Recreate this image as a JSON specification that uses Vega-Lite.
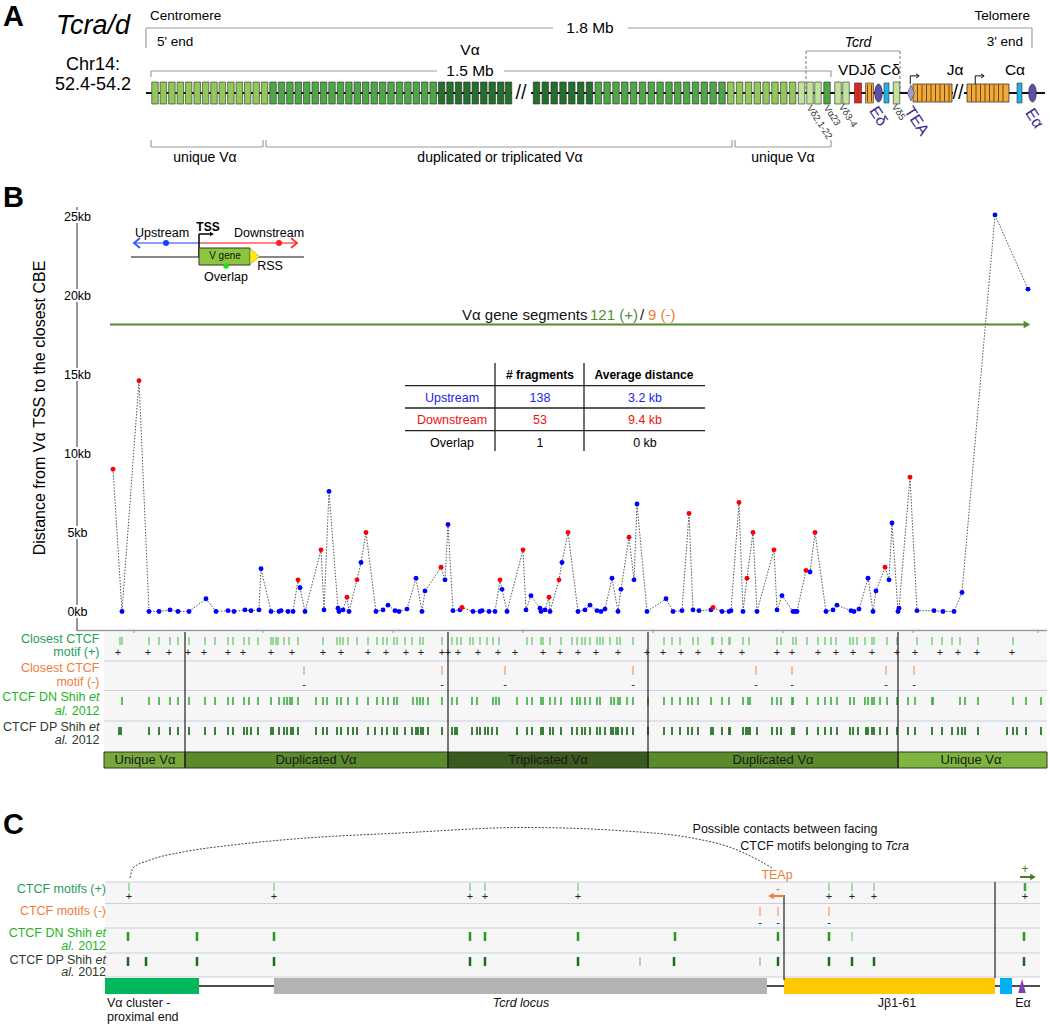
{
"$schema":"https://vega.github.io/schema/vega-lite/v6.json",
"width":1050,"height":1024,
"autosize":{"type":"fit","contains":"padding"},
"padding":0,
"background":"#ffffff",
"config":{"view":{"stroke":null},"font":"Liberation Sans"},
"datasets":{
"pts":[{"pos":113,"kb":9.0,"d":"D"},{"pos":122,"kb":0.0,"d":"U"},{"pos":139,"kb":14.6,"d":"D"},{"pos":149,"kb":0.0,"d":"U"},{"pos":159,"kb":0.0,"d":"U"},{"pos":170,"kb":0.1,"d":"U"},{"pos":178,"kb":0.0,"d":"U"},{"pos":189,"kb":0.0,"d":"U"},{"pos":206,"kb":0.8,"d":"U"},{"pos":216,"kb":0.0,"d":"U"},{"pos":228,"kb":0.05,"d":"U"},{"pos":234,"kb":0.0,"d":"U"},{"pos":245,"kb":0.1,"d":"U"},{"pos":251,"kb":0.05,"d":"U"},{"pos":259,"kb":0.1,"d":"U"},{"pos":261,"kb":2.7,"d":"U"},{"pos":271,"kb":0.0,"d":"U"},{"pos":279,"kb":0.0,"d":"U"},{"pos":281,"kb":0.05,"d":"U"},{"pos":288,"kb":0.0,"d":"U"},{"pos":293,"kb":0.0,"d":"U"},{"pos":298,"kb":2.0,"d":"D"},{"pos":300,"kb":1.5,"d":"U"},{"pos":305,"kb":0.0,"d":"U"},{"pos":321,"kb":3.9,"d":"D"},{"pos":324,"kb":0.1,"d":"U"},{"pos":329,"kb":7.6,"d":"U"},{"pos":338,"kb":0.2,"d":"U"},{"pos":339,"kb":0.0,"d":"U"},{"pos":343,"kb":0.1,"d":"U"},{"pos":347,"kb":0.9,"d":"D"},{"pos":349,"kb":0.0,"d":"U"},{"pos":357,"kb":2.0,"d":"D"},{"pos":361,"kb":3.1,"d":"U"},{"pos":366,"kb":5.0,"d":"D"},{"pos":376,"kb":0.0,"d":"U"},{"pos":383,"kb":0.1,"d":"U"},{"pos":388,"kb":0.4,"d":"U"},{"pos":395,"kb":0.05,"d":"U"},{"pos":399,"kb":0.0,"d":"U"},{"pos":407,"kb":0.15,"d":"U"},{"pos":416,"kb":2.1,"d":"U"},{"pos":422,"kb":0.0,"d":"U"},{"pos":425,"kb":1.3,"d":"U"},{"pos":441,"kb":2.8,"d":"D"},{"pos":445,"kb":2.0,"d":"U"},{"pos":448,"kb":5.5,"d":"U"},{"pos":453,"kb":0.05,"d":"U"},{"pos":460,"kb":0.1,"d":"U"},{"pos":462,"kb":0.25,"d":"D"},{"pos":473,"kb":0.0,"d":"U"},{"pos":480,"kb":0.0,"d":"U"},{"pos":482,"kb":0.05,"d":"U"},{"pos":489,"kb":0.0,"d":"U"},{"pos":495,"kb":0.0,"d":"U"},{"pos":500,"kb":2.0,"d":"D"},{"pos":502,"kb":1.4,"d":"U"},{"pos":507,"kb":0.0,"d":"U"},{"pos":523,"kb":3.9,"d":"D"},{"pos":526,"kb":0.1,"d":"U"},{"pos":531,"kb":1.0,"d":"U"},{"pos":540,"kb":0.2,"d":"U"},{"pos":541,"kb":0.0,"d":"U"},{"pos":545,"kb":0.1,"d":"U"},{"pos":549,"kb":0.9,"d":"D"},{"pos":550,"kb":0.0,"d":"U"},{"pos":559,"kb":2.0,"d":"D"},{"pos":562,"kb":3.1,"d":"U"},{"pos":568,"kb":5.0,"d":"D"},{"pos":578,"kb":0.0,"d":"U"},{"pos":585,"kb":0.1,"d":"U"},{"pos":590,"kb":0.4,"d":"U"},{"pos":597,"kb":0.05,"d":"U"},{"pos":601,"kb":0.0,"d":"U"},{"pos":605,"kb":0.15,"d":"U"},{"pos":612,"kb":2.1,"d":"U"},{"pos":618,"kb":0.0,"d":"U"},{"pos":621,"kb":1.4,"d":"U"},{"pos":629,"kb":4.7,"d":"D"},{"pos":634,"kb":2.0,"d":"U"},{"pos":637,"kb":6.8,"d":"U"},{"pos":647,"kb":0.0,"d":"U"},{"pos":666,"kb":0.8,"d":"U"},{"pos":673,"kb":0.0,"d":"U"},{"pos":682,"kb":0.05,"d":"U"},{"pos":689,"kb":6.2,"d":"D"},{"pos":693,"kb":0.1,"d":"U"},{"pos":699,"kb":0.05,"d":"U"},{"pos":711,"kb":0.1,"d":"U"},{"pos":713,"kb":0.25,"d":"D"},{"pos":722,"kb":0.0,"d":"U"},{"pos":729,"kb":0.0,"d":"U"},{"pos":731,"kb":0.05,"d":"U"},{"pos":739,"kb":6.9,"d":"D"},{"pos":743,"kb":0.0,"d":"U"},{"pos":747,"kb":2.1,"d":"D"},{"pos":753,"kb":5.0,"d":"D"},{"pos":757,"kb":0.0,"d":"U"},{"pos":774,"kb":3.9,"d":"D"},{"pos":777,"kb":0.1,"d":"U"},{"pos":782,"kb":1.0,"d":"U"},{"pos":793,"kb":0.0,"d":"U"},{"pos":795,"kb":0.0,"d":"U"},{"pos":797,"kb":0.0,"d":"U"},{"pos":806,"kb":2.6,"d":"D"},{"pos":810,"kb":2.5,"d":"U"},{"pos":815,"kb":5.0,"d":"D"},{"pos":826,"kb":0.0,"d":"U"},{"pos":833,"kb":0.1,"d":"U"},{"pos":837,"kb":0.4,"d":"U"},{"pos":851,"kb":0.05,"d":"U"},{"pos":854,"kb":0.0,"d":"U"},{"pos":859,"kb":0.15,"d":"U"},{"pos":868,"kb":2.1,"d":"U"},{"pos":873,"kb":0.0,"d":"U"},{"pos":876,"kb":1.3,"d":"U"},{"pos":885,"kb":2.8,"d":"D"},{"pos":889,"kb":2.0,"d":"U"},{"pos":892,"kb":5.6,"d":"U"},{"pos":898,"kb":0.0,"d":"U"},{"pos":899,"kb":0.2,"d":"U"},{"pos":910,"kb":8.5,"d":"D"},{"pos":917,"kb":0.05,"d":"U"},{"pos":934,"kb":0.05,"d":"U"},{"pos":943,"kb":0.0,"d":"U"},{"pos":954,"kb":0.0,"d":"U"},{"pos":962,"kb":1.2,"d":"U"},{"pos":995,"kb":25.1,"d":"U"},{"pos":1028,"kb":20.4,"d":"U"}],
"bPlus":[{"x":120},{"x":122},{"x":149},{"x":159},{"x":170},{"x":178},{"x":189},{"x":205},{"x":215},{"x":228},{"x":233},{"x":244},{"x":249},{"x":258},{"x":271},{"x":273},{"x":276},{"x":278},{"x":284},{"x":289},{"x":298},{"x":323},{"x":337},{"x":340},{"x":343},{"x":348},{"x":357},{"x":368},{"x":377},{"x":383},{"x":387},{"x":394},{"x":397},{"x":405},{"x":412},{"x":420},{"x":423},{"x":442},{"x":452},{"x":457},{"x":461},{"x":470},{"x":473},{"x":480},{"x":487},{"x":493},{"x":499},{"x":527},{"x":532},{"x":541},{"x":543},{"x":550},{"x":561},{"x":572},{"x":577},{"x":582},{"x":585},{"x":590},{"x":597},{"x":600},{"x":603},{"x":610},{"x":617},{"x":620},{"x":633},{"x":664},{"x":672},{"x":680},{"x":693},{"x":698},{"x":712},{"x":713},{"x":722},{"x":729},{"x":730},{"x":743},{"x":749},{"x":777},{"x":781},{"x":793},{"x":796},{"x":807},{"x":818},{"x":825},{"x":831},{"x":836},{"x":850},{"x":853},{"x":857},{"x":865},{"x":872},{"x":874},{"x":887},{"x":897},{"x":917},{"x":932},{"x":942},{"x":952},{"x":960},{"x":978},{"x":1013}],
"bPlusSign":[{"x":118},{"x":148},{"x":169},{"x":188},{"x":204},{"x":228},{"x":243},{"x":271},{"x":292},{"x":323},{"x":341},{"x":368},{"x":386},{"x":406},{"x":421},{"x":442},{"x":448},{"x":458},{"x":478},{"x":498},{"x":515},{"x":543},{"x":560},{"x":578},{"x":596},{"x":618},{"x":647},{"x":663},{"x":681},{"x":698},{"x":721},{"x":742},{"x":777},{"x":792},{"x":818},{"x":836},{"x":853},{"x":872},{"x":897},{"x":915},{"x":940},{"x":958},{"x":977},{"x":1012}],
"bMinus":[{"x":304},{"x":442},{"x":505},{"x":633},{"x":756},{"x":792},{"x":886},{"x":914}],
"bDN":[{"x":122},{"x":149},{"x":159},{"x":170},{"x":178},{"x":189},{"x":205},{"x":215},{"x":228},{"x":233},{"x":244},{"x":249},{"x":258},{"x":271},{"x":279},{"x":284},{"x":287},{"x":290},{"x":292},{"x":298},{"x":316},{"x":323},{"x":327},{"x":337},{"x":341},{"x":348},{"x":357},{"x":368},{"x":377},{"x":383},{"x":388},{"x":394},{"x":397},{"x":413},{"x":417},{"x":420},{"x":423},{"x":428},{"x":442},{"x":452},{"x":457},{"x":472},{"x":477},{"x":493},{"x":496},{"x":499},{"x":517},{"x":527},{"x":532},{"x":541},{"x":543},{"x":550},{"x":555},{"x":561},{"x":572},{"x":577},{"x":580},{"x":585},{"x":590},{"x":597},{"x":600},{"x":611},{"x":614},{"x":618},{"x":620},{"x":627},{"x":633},{"x":648},{"x":664},{"x":672},{"x":680},{"x":688},{"x":692},{"x":698},{"x":711},{"x":722},{"x":729},{"x":743},{"x":748},{"x":750},{"x":772},{"x":777},{"x":781},{"x":792},{"x":793},{"x":807},{"x":818},{"x":825},{"x":831},{"x":837},{"x":850},{"x":854},{"x":865},{"x":868},{"x":872},{"x":874},{"x":880},{"x":887},{"x":897},{"x":908},{"x":915},{"x":932},{"x":933},{"x":960},{"x":965},{"x":978},{"x":1013},{"x":1026},{"x":1041}],
"bDP":[{"x":119},{"x":121},{"x":149},{"x":159},{"x":170},{"x":178},{"x":189},{"x":205},{"x":215},{"x":228},{"x":233},{"x":244},{"x":247},{"x":251},{"x":258},{"x":271},{"x":273},{"x":279},{"x":284},{"x":287},{"x":291},{"x":293},{"x":298},{"x":316},{"x":323},{"x":327},{"x":337},{"x":341},{"x":348},{"x":353},{"x":357},{"x":368},{"x":375},{"x":382},{"x":387},{"x":394},{"x":397},{"x":405},{"x":412},{"x":416},{"x":418},{"x":421},{"x":423},{"x":428},{"x":442},{"x":452},{"x":455},{"x":457},{"x":472},{"x":477},{"x":480},{"x":485},{"x":488},{"x":492},{"x":497},{"x":517},{"x":527},{"x":532},{"x":541},{"x":543},{"x":550},{"x":553},{"x":561},{"x":572},{"x":577},{"x":582},{"x":585},{"x":590},{"x":597},{"x":600},{"x":605},{"x":611},{"x":613},{"x":616},{"x":618},{"x":622},{"x":627},{"x":633},{"x":648},{"x":664},{"x":672},{"x":680},{"x":688},{"x":692},{"x":698},{"x":711},{"x":713},{"x":722},{"x":729},{"x":730},{"x":743},{"x":746},{"x":748},{"x":750},{"x":757},{"x":772},{"x":777},{"x":781},{"x":792},{"x":794},{"x":807},{"x":818},{"x":825},{"x":831},{"x":837},{"x":850},{"x":853},{"x":858},{"x":866},{"x":868},{"x":872},{"x":874},{"x":880},{"x":887},{"x":897},{"x":908},{"x":915},{"x":932},{"x":942},{"x":952},{"x":958},{"x":962},{"x":965},{"x":978},{"x":1007},{"x":1013},{"x":1017},{"x":1026},{"x":1041}],
"cPlus":[{"x":129},{"x":274},{"x":470},{"x":485},{"x":578},{"x":829},{"x":852},{"x":874}],
"cPlusSign":[{"x":129},{"x":274},{"x":470},{"x":485},{"x":578},{"x":829},{"x":852},{"x":874},{"x":1025}],
"cMinus":[{"x":760},{"x":778},{"x":829}],
"cDN":[{"x":128},{"x":197},{"x":274},{"x":470},{"x":485},{"x":578},{"x":675},{"x":778},{"x":829},{"x":1024}],
"cDP":[{"x":128},{"x":146},{"x":197},{"x":274},{"x":470},{"x":485},{"x":578},{"x":674},{"x":778},{"x":829},{"x":852},{"x":874},{"x":1024}],
"cLight":[{"x":640},{"x":760}]
},
"layer":[
{
"encoding":{
"x":{"field":"x","type":"quantitative","scale":{"domain":[0,1050],"nice":false,"zero":false},"axis":null}
},
"layer":[
{"data":{"values":[{"x":104,"x2":1047,"y":632,"y2":752},{"x":105,"x2":1040,"y":882,"y2":977}]},"mark":{"type":"rect","color":"#f6f6f6"},"encoding":{"x2":{"field":"x2"},"y":{"field":"y","type":"quantitative","scale":{"domain":[0,1024],"reverse":true,"nice":false,"zero":false},"axis":null},"y2":{"field":"y2"}}},
{"data":{"values":[{"x":104,"x2":1047,"y":661},{"x":104,"x2":1047,"y":690.5},{"x":104,"x2":1047,"y":721},{"x":105,"x2":1040,"y":882},{"x":105,"x2":1040,"y":903.5},{"x":105,"x2":1040,"y":928},{"x":105,"x2":1040,"y":953},{"x":105,"x2":1040,"y":977}]},"mark":{"type":"rule","color":"#cdcfdc","strokeWidth":1.2},"encoding":{"x2":{"field":"x2"},"y":{"field":"y","type":"quantitative","scale":{"domain":[0,1024],"reverse":true,"nice":false,"zero":false},"axis":null}}},
{"data":{"values":[{"x":77,"x2":1047,"y":630.5}]},"mark":{"type":"rule","color":"#9a9a9a","strokeWidth":1.5},"encoding":{"x2":{"field":"x2"},"y":{"field":"y","type":"quantitative","scale":{"domain":[0,1024],"reverse":true,"nice":false,"zero":false},"axis":null}}},
{"data":{"values":[{"x":134},{"x":263},{"x":393},{"x":523},{"x":653},{"x":783},{"x":913},{"x":1038}]},"mark":{"type":"rule","color":"#9a9a9a","strokeWidth":1},"encoding":{"y":{"datum":630,"type":"quantitative","scale":{"domain":[0,1024],"reverse":true,"nice":false,"zero":false},"axis":null},"y2":{"datum":633}}},
{"data":{"name":"bPlus"},"mark":{"type":"rule","color":"#5cc65c","strokeWidth":1.2},"encoding":{"y":{"datum":637,"type":"quantitative","scale":{"domain":[0,1024],"reverse":true,"nice":false,"zero":false},"axis":null},"y2":{"datum":645}}},
{"data":{"name":"bPlusSign"},"mark":{"type":"text","text":"+","fontSize":11,"color":"#222222","baseline":"middle"},"encoding":{"y":{"datum":653,"type":"quantitative","scale":{"domain":[0,1024],"reverse":true,"nice":false,"zero":false},"axis":null}}},
{"data":{"name":"bMinus"},"mark":{"type":"rule","color":"#f59f66","strokeWidth":1.3},"encoding":{"y":{"datum":666,"type":"quantitative","scale":{"domain":[0,1024],"reverse":true,"nice":false,"zero":false},"axis":null},"y2":{"datum":675}}},
{"data":{"name":"bMinus"},"mark":{"type":"text","text":"-","fontSize":11,"color":"#222222","baseline":"middle"},"encoding":{"y":{"datum":685,"type":"quantitative","scale":{"domain":[0,1024],"reverse":true,"nice":false,"zero":false},"axis":null}}},
{"data":{"name":"bDN"},"mark":{"type":"rule","color":"#2da82d","strokeWidth":1.5},"encoding":{"y":{"datum":697,"type":"quantitative","scale":{"domain":[0,1024],"reverse":true,"nice":false,"zero":false},"axis":null},"y2":{"datum":705}}},
{"data":{"name":"bDP"},"mark":{"type":"rule","color":"#1c6b1c","strokeWidth":1.7},"encoding":{"y":{"datum":727,"type":"quantitative","scale":{"domain":[0,1024],"reverse":true,"nice":false,"zero":false},"axis":null},"y2":{"datum":735}}},
{"data":{"values":[{"x":104,"x2":185,"y":752,"y2":768}]},"mark":{"type":"rect","color":"#78a83b","stroke":"#2a3a1a","strokeWidth":1},"encoding":{"x2":{"field":"x2"},"y":{"field":"y","type":"quantitative","scale":{"domain":[0,1024],"reverse":true,"nice":false,"zero":false},"axis":null},"y2":{"field":"y2"}}},
{"data":{"values":[{"x":185,"x2":448,"y":752,"y2":768},{"x":648,"x2":898,"y":752,"y2":768}]},"mark":{"type":"rect","color":"#5a8a2b","stroke":"#2a3a1a","strokeWidth":1},"encoding":{"x2":{"field":"x2"},"y":{"field":"y","type":"quantitative","scale":{"domain":[0,1024],"reverse":true,"nice":false,"zero":false},"axis":null},"y2":{"field":"y2"}}},
{"data":{"values":[{"x":448,"x2":648,"y":752,"y2":768}]},"mark":{"type":"rect","color":"#3b5a1d","stroke":"#2a3a1a","strokeWidth":1},"encoding":{"x2":{"field":"x2"},"y":{"field":"y","type":"quantitative","scale":{"domain":[0,1024],"reverse":true,"nice":false,"zero":false},"axis":null},"y2":{"field":"y2"}}},
{"data":{"values":[{"x":898,"x2":1047,"y":752,"y2":768}]},"mark":{"type":"rect","color":"#7db53f","stroke":"#2a3a1a","strokeWidth":1},"encoding":{"x2":{"field":"x2"},"y":{"field":"y","type":"quantitative","scale":{"domain":[0,1024],"reverse":true,"nice":false,"zero":false},"axis":null},"y2":{"field":"y2"}}},
{"data":{"values":[{"x":185,"y":632,"y2":768},{"x":448,"y":632,"y2":768},{"x":648,"y":632,"y2":768},{"x":898,"y":632,"y2":768}]},"mark":{"type":"rule","color":"#222222","strokeWidth":1.2},"encoding":{"y":{"field":"y","type":"quantitative","scale":{"domain":[0,1024],"reverse":true,"nice":false,"zero":false},"axis":null},"y2":{"field":"y2"}}},
{"data":{"values":[{"x":77,"y":207,"y2":210},{"x":77,"y":223,"y2":289},{"x":77,"y":302,"y2":368},{"x":77,"y":381,"y2":447},{"x":77,"y":460,"y2":526},{"x":77,"y":539,"y2":605},{"x":77,"y":618,"y2":631}]},"mark":{"type":"rule","color":"#858585","strokeWidth":1.7},"encoding":{"y":{"field":"y","type":"quantitative","scale":{"domain":[0,1024],"reverse":true,"nice":false,"zero":false},"axis":null},"y2":{"field":"y2"}}},

{"data":{"values":[{"x":199,"x2":1040,"y":986}]},"mark":{"type":"rule","color":"#111111","strokeWidth":1.5},"encoding":{"x2":{"field":"x2"},"y":{"field":"y","type":"quantitative","scale":{"domain":[0,1024],"reverse":true,"nice":false,"zero":false},"axis":null}}},
{"data":{"values":[{"x":105,"x2":199,"y":978,"y2":994}]},"mark":{"type":"rect","color":"#00b95c"},"encoding":{"x2":{"field":"x2"},"y":{"field":"y","type":"quantitative","scale":{"domain":[0,1024],"reverse":true,"nice":false,"zero":false},"axis":null},"y2":{"field":"y2"}}},
{"data":{"values":[{"x":274,"x2":767,"y":978,"y2":994}]},"mark":{"type":"rect","color":"#b3b3b3"},"encoding":{"x2":{"field":"x2"},"y":{"field":"y","type":"quantitative","scale":{"domain":[0,1024],"reverse":true,"nice":false,"zero":false},"axis":null},"y2":{"field":"y2"}}},
{"data":{"values":[{"x":784,"x2":995,"y":978,"y2":994}]},"mark":{"type":"rect","color":"#ffc800"},"encoding":{"x2":{"field":"x2"},"y":{"field":"y","type":"quantitative","scale":{"domain":[0,1024],"reverse":true,"nice":false,"zero":false},"axis":null},"y2":{"field":"y2"}}},
{"data":{"values":[{"x":1000,"x2":1012,"y":978,"y2":994}]},"mark":{"type":"rect","color":"#00b0f0"},"encoding":{"x2":{"field":"x2"},"y":{"field":"y","type":"quantitative","scale":{"domain":[0,1024],"reverse":true,"nice":false,"zero":false},"axis":null},"y2":{"field":"y2"}}},
{"data":{"values":[{"x":1022,"y":986}]},"mark":{"type":"point","shape":"M0,-1L0.55,1L-0.55,1Z","size":196,"filled":true,"opacity":1,"color":"#7e3fb3"},"encoding":{"y":{"field":"y","type":"quantitative","scale":{"domain":[0,1024],"reverse":true,"nice":false,"zero":false},"axis":null}}},
{"data":{"name":"cPlus"},"mark":{"type":"rule","color":"#6fcf6f","strokeWidth":1.2},"encoding":{"y":{"datum":883,"type":"quantitative","scale":{"domain":[0,1024],"reverse":true,"nice":false,"zero":false},"axis":null},"y2":{"datum":891}}},
{"data":{"values":[{"x":1025}]},"mark":{"type":"rule","color":"#3aa53a","strokeWidth":2.5},"encoding":{"y":{"datum":883,"type":"quantitative","scale":{"domain":[0,1024],"reverse":true,"nice":false,"zero":false},"axis":null},"y2":{"datum":891}}},
{"data":{"name":"cPlusSign"},"mark":{"type":"text","text":"+","fontSize":11,"color":"#222222","baseline":"middle"},"encoding":{"y":{"datum":897,"type":"quantitative","scale":{"domain":[0,1024],"reverse":true,"nice":false,"zero":false},"axis":null}}},
{"data":{"name":"cMinus"},"mark":{"type":"rule","color":"#f5a066","strokeWidth":1.3},"encoding":{"y":{"datum":907,"type":"quantitative","scale":{"domain":[0,1024],"reverse":true,"nice":false,"zero":false},"axis":null},"y2":{"datum":916}}},
{"data":{"name":"cMinus"},"mark":{"type":"text","text":"-","fontSize":11,"color":"#222222","baseline":"middle"},"encoding":{"y":{"datum":923,"type":"quantitative","scale":{"domain":[0,1024],"reverse":true,"nice":false,"zero":false},"axis":null}}},
{"data":{"name":"cDN"},"mark":{"type":"rule","color":"#1f9f1f","strokeWidth":2.5},"encoding":{"y":{"datum":932,"type":"quantitative","scale":{"domain":[0,1024],"reverse":true,"nice":false,"zero":false},"axis":null},"y2":{"datum":941}}},
{"data":{"values":[{"x":852}]},"mark":{"type":"rule","color":"#7ad07a","strokeWidth":1.2},"encoding":{"y":{"datum":932,"type":"quantitative","scale":{"domain":[0,1024],"reverse":true,"nice":false,"zero":false},"axis":null},"y2":{"datum":941}}},
{"data":{"name":"cDP"},"mark":{"type":"rule","color":"#1a6b1a","strokeWidth":2.5},"encoding":{"y":{"datum":957,"type":"quantitative","scale":{"domain":[0,1024],"reverse":true,"nice":false,"zero":false},"axis":null},"y2":{"datum":966}}},
{"data":{"name":"cLight"},"mark":{"type":"rule","color":"#7fc87f","strokeWidth":1.2},"encoding":{"y":{"datum":957,"type":"quantitative","scale":{"domain":[0,1024],"reverse":true,"nice":false,"zero":false},"axis":null},"y2":{"datum":966}}},
{"data":{"values":[{"x":784,"y":895,"y2":980},{"x":995,"y":882,"y2":978}]},"mark":{"type":"rule","color":"#222222","strokeWidth":1.2},"encoding":{"y":{"field":"y","type":"quantitative","scale":{"domain":[0,1024],"reverse":true,"nice":false,"zero":false},"axis":null},"y2":{"field":"y2"}}},
{"data":{"values":[{"x":773,"x2":784,"y":896}]},"mark":{"type":"rule","color":"#f07d3c","strokeWidth":2},"encoding":{"x2":{"field":"x2"},"y":{"field":"y","type":"quantitative","scale":{"domain":[0,1024],"reverse":true,"nice":false,"zero":false},"axis":null}}},
{"data":{"values":[{"x":771,"y":896}]},"mark":{"type":"point","shape":"triangle-left","size":40,"filled":true,"opacity":1,"color":"#f07d3c"},"encoding":{"y":{"field":"y","type":"quantitative","scale":{"domain":[0,1024],"reverse":true,"nice":false,"zero":false},"axis":null}}},
{"data":{"values":[{"x":1020,"x2":1031,"y":877}]},"mark":{"type":"rule","color":"#4a7a1e","strokeWidth":2},"encoding":{"x2":{"field":"x2"},"y":{"field":"y","type":"quantitative","scale":{"domain":[0,1024],"reverse":true,"nice":false,"zero":false},"axis":null}}},
{"data":{"values":[{"x":1033,"y":877}]},"mark":{"type":"point","shape":"triangle-right","size":40,"filled":true,"opacity":1,"color":"#4a7a1e"},"encoding":{"y":{"field":"y","type":"quantitative","scale":{"domain":[0,1024],"reverse":true,"nice":false,"zero":false},"axis":null}}},
{"data":{"values":[{"x":130,"y":878},{"x":133,"y":868},{"x":150,"y":860},{"x":183,"y":852},{"x":233,"y":845},{"x":300,"y":838.5},{"x":400,"y":833},{"x":525,"y":827.5},{"x":625,"y":831},{"x":692,"y":838},{"x":732,"y":848},{"x":758,"y":860},{"x":772,"y":868}]},"mark":{"type":"line","color":"#444444","strokeWidth":1,"strokeDash":[2,1.5],"interpolate":"monotone"},"encoding":{"y":{"field":"y","type":"quantitative","scale":{"domain":[0,1024],"reverse":true,"nice":false,"zero":false},"axis":null}}},

{"data":{"values":[{"x":146,"x2":553,"y":28},{"x":628,"x2":1032,"y":28},{"x":151,"x2":437,"y":71},{"x":504,"x2":831,"y":71},{"x":806,"x2":900,"y":51},{"x":151,"x2":263,"y":147},{"x":266,"x2":732,"y":147},{"x":735,"x2":831,"y":147}]},"mark":{"type":"rule","color":"#9c9c9c","strokeWidth":1.2},"encoding":{"x2":{"field":"x2"},"y":{"field":"y","type":"quantitative","scale":{"domain":[0,1024],"reverse":true,"nice":false,"zero":false},"axis":null}}},
{"data":{"values":[{"x":146,"y":28,"y2":48},{"x":1032,"y":28,"y2":48},{"x":151,"y":71,"y2":77},{"x":831,"y":71,"y2":77},{"x":151,"y":140,"y2":147},{"x":263,"y":140,"y2":147},{"x":266,"y":140,"y2":147},{"x":732,"y":140,"y2":147},{"x":735,"y":140,"y2":147},{"x":831,"y":140,"y2":147}]},"mark":{"type":"rule","color":"#9c9c9c","strokeWidth":1.2},"encoding":{"y":{"field":"y","type":"quantitative","scale":{"domain":[0,1024],"reverse":true,"nice":false,"zero":false},"axis":null},"y2":{"field":"y2"}}},
{"data":{"values":[{"x":806,"y":51,"y2":92},{"x":900,"y":51,"y2":92}]},"mark":{"type":"rule","color":"#777777","strokeWidth":1,"strokeDash":[3,2]},"encoding":{"y":{"field":"y","type":"quantitative","scale":{"domain":[0,1024],"reverse":true,"nice":false,"zero":false},"axis":null},"y2":{"field":"y2"}}},
{"data":{"values":[{"x":146,"x2":512,"y":93},{"x":531,"x2":953,"y":93},{"x":964,"x2":1045,"y":93}]},"mark":{"type":"rule","color":"#111111","strokeWidth":2.2},"encoding":{"x2":{"field":"x2"},"y":{"field":"y","type":"quantitative","scale":{"domain":[0,1024],"reverse":true,"nice":false,"zero":false},"axis":null}}},
{"data":{"values":[{"x":521,"y":93,"t":"//"},{"x":958,"y":93,"t":"//"}]},"mark":{"type":"text","fontSize":20,"color":"#111111","baseline":"middle","align":"center"},"encoding":{"y":{"field":"y","type":"quantitative","scale":{"domain":[0,1024],"reverse":true,"nice":false,"zero":false},"axis":null},"text":{"field":"t"}}},
{"data":{"values":[{"x":155.0,"g":"L"},{"x":163.4,"g":"L"},{"x":171.9,"g":"L"},{"x":180.3,"g":"L"},{"x":188.7,"g":"L"},{"x":197.2,"g":"L"},{"x":205.6,"g":"L"},{"x":214.0,"g":"L"},{"x":222.4,"g":"L"},{"x":230.9,"g":"L"},{"x":239.3,"g":"L"},{"x":247.7,"g":"L"},{"x":256.2,"g":"L"},{"x":264.6,"g":"L"},{"x":273.0,"g":"M"},{"x":281.5,"g":"M"},{"x":289.9,"g":"M"},{"x":298.3,"g":"M"},{"x":306.7,"g":"M"},{"x":315.2,"g":"M"},{"x":323.6,"g":"M"},{"x":332.0,"g":"M"},{"x":340.5,"g":"M"},{"x":348.9,"g":"M"},{"x":357.3,"g":"M"},{"x":365.7,"g":"M"},{"x":374.2,"g":"M"},{"x":382.6,"g":"M"},{"x":391.0,"g":"M"},{"x":399.5,"g":"M"},{"x":407.9,"g":"M"},{"x":416.3,"g":"M"},{"x":424.7,"g":"M"},{"x":433.2,"g":"M"},{"x":441.6,"g":"D"},{"x":450.0,"g":"D"},{"x":458.5,"g":"D"},{"x":466.9,"g":"D"},{"x":475.3,"g":"D"},{"x":483.8,"g":"D"},{"x":492.2,"g":"D"},{"x":500.6,"g":"D"},{"x":508.5,"g":"D"},{"x":536.5,"g":"D"},{"x":545.3,"g":"D"},{"x":554.2,"g":"D"},{"x":563.0,"g":"D"},{"x":571.8,"g":"D"},{"x":580.7,"g":"D"},{"x":589.5,"g":"D"},{"x":598.3,"g":"M"},{"x":607.1,"g":"M"},{"x":616.0,"g":"M"},{"x":624.8,"g":"M"},{"x":633.6,"g":"M"},{"x":642.5,"g":"M"},{"x":651.3,"g":"M"},{"x":660.1,"g":"M"},{"x":669.0,"g":"M"},{"x":677.8,"g":"M"},{"x":686.6,"g":"M"},{"x":695.5,"g":"M"},{"x":704.3,"g":"M"},{"x":713.1,"g":"M"},{"x":722.0,"g":"M"},{"x":730.8,"g":"L"},{"x":739.6,"g":"L"},{"x":748.5,"g":"L"},{"x":757.3,"g":"L"},{"x":766.1,"g":"L"},{"x":775.0,"g":"L"},{"x":783.8,"g":"L"},{"x":792.6,"g":"L"},{"x":801.5,"g":"V"},{"x":810.0,"g":"V"},{"x":818.0,"g":"V"},{"x":827.0,"g":"M"},{"x":838.0,"g":"V"},{"x":846.0,"g":"V"},{"x":896.5,"g":"V"}]},"mark":{"type":"tick","orient":"vertical","thickness":6.5,"size":22,"stroke":"#2a2a2a","strokeWidth":0.6,"opacity":1},"encoding":{"y":{"datum":93,"type":"quantitative","scale":{"domain":[0,1024],"reverse":true,"nice":false,"zero":false},"axis":null},"color":{"field":"g","type":"nominal","scale":{"domain":["V","L","M","D"],"range":["#c3e39c","#92c85a","#4ea646","#236f2b"]},"legend":null}}},
{"data":{"values":[{"x":858}]},"mark":{"type":"tick","orient":"vertical","thickness":7,"size":20,"color":"#e8262a","stroke":"#5a1010","strokeWidth":0.6,"opacity":1},"encoding":{"y":{"datum":93,"type":"quantitative","scale":{"domain":[0,1024],"reverse":true,"nice":false,"zero":false},"axis":null}}},
{"data":{"values":[{"x":869.5}]},"mark":{"type":"tick","orient":"vertical","thickness":8,"size":20,"color":"#f3a83b","stroke":"#333333","strokeWidth":0.6,"opacity":1},"encoding":{"y":{"datum":93,"type":"quantitative","scale":{"domain":[0,1024],"reverse":true,"nice":false,"zero":false},"axis":null}}},
{"data":{"values":[{"x":886.5},{"x":1019.5}]},"mark":{"type":"tick","orient":"vertical","thickness":5,"size":20,"color":"#1fb1e8","stroke":"#333333","strokeWidth":0.6,"opacity":1},"encoding":{"y":{"datum":93,"type":"quantitative","scale":{"domain":[0,1024],"reverse":true,"nice":false,"zero":false},"axis":null}}},
{"data":{"values":[{"x":913,"x2":952,"y":84,"y2":102},{"x":967,"x2":1009,"y":84,"y2":102}]},"mark":{"type":"rect","color":"#f3a83b","stroke":"#333333","strokeWidth":0.8},"encoding":{"x2":{"field":"x2"},"y":{"field":"y","type":"quantitative","scale":{"domain":[0,1024],"reverse":true,"nice":false,"zero":false},"axis":null},"y2":{"field":"y2"}}},
{"data":{"values":[{"x":858},{"x":867.5},{"x":871.5},{"x":917.5},{"x":922},{"x":926.5},{"x":931},{"x":935.5},{"x":940},{"x":944.5},{"x":949},{"x":971.5},{"x":976},{"x":980.5},{"x":985},{"x":989.5},{"x":994},{"x":998.5},{"x":1003}]},"mark":{"type":"rule","color":"#6b4a10","strokeWidth":1},"encoding":{"y":{"datum":84.5,"type":"quantitative","scale":{"domain":[0,1024],"reverse":true,"nice":false,"zero":false},"axis":null},"y2":{"datum":101.5}}},
{"data":{"values":[{"x":878.5,"y":93},{"x":1032.5,"y":93}]},"mark":{"type":"point","shape":"M0,-1A0.42,1 0 1,1 0,1A0.42,1 0 1,1 0,-1Z","size":324,"filled":true,"opacity":1,"color":"#5b51a6","stroke":"#222222","strokeWidth":0.6},"encoding":{"y":{"field":"y","type":"quantitative","scale":{"domain":[0,1024],"reverse":true,"nice":false,"zero":false},"axis":null}}},
{"data":{"values":[{"x":911,"y":93}]},"mark":{"type":"point","shape":"M0,-1L0.45,0L0,1L-0.45,0Z","size":256,"filled":true,"opacity":1,"color":"#a79bd4","stroke":"#444444","strokeWidth":0.6},"encoding":{"y":{"field":"y","type":"quantitative","scale":{"domain":[0,1024],"reverse":true,"nice":false,"zero":false},"axis":null}}},
{"data":{"values":[{"x":915,"y":79},{"x":980,"y":79}]},"mark":{"type":"point","shape":"M-0.9,1L-0.9,-0.6L0.7,-0.6M0.2,-1L0.8,-0.6L0.2,-0.2","size":110,"filled":false,"opacity":1,"color":"#111111","strokeWidth":1},"encoding":{"y":{"field":"y","type":"quantitative","scale":{"domain":[0,1024],"reverse":true,"nice":false,"zero":false},"axis":null}}},

{"data":{"values":[{"x":134,"x2":199,"y":243}]},"mark":{"type":"rule","color":"#5f7dff","strokeWidth":1.5},"encoding":{"x2":{"field":"x2"},"y":{"field":"y","type":"quantitative","scale":{"domain":[0,1024],"reverse":true,"nice":false,"zero":false},"axis":null}}},
{"data":{"values":[{"x":199,"x2":297,"y":243}]},"mark":{"type":"rule","color":"#ff5a5a","strokeWidth":1.5},"encoding":{"x2":{"field":"x2"},"y":{"field":"y","type":"quantitative","scale":{"domain":[0,1024],"reverse":true,"nice":false,"zero":false},"axis":null}}},
{"data":{"values":[{"x":137,"y":243}]},"mark":{"type":"point","shape":"M0.6,-1L-0.6,0L0.6,1","size":100,"filled":false,"opacity":1,"color":"#3355ff","strokeWidth":1.8},"encoding":{"y":{"field":"y","type":"quantitative","scale":{"domain":[0,1024],"reverse":true,"nice":false,"zero":false},"axis":null}}},
{"data":{"values":[{"x":294,"y":243}]},"mark":{"type":"point","shape":"M-0.6,-1L0.6,0L-0.6,1","size":100,"filled":false,"opacity":1,"color":"#ff3030","strokeWidth":1.8},"encoding":{"y":{"field":"y","type":"quantitative","scale":{"domain":[0,1024],"reverse":true,"nice":false,"zero":false},"axis":null}}},
{"data":{"values":[{"x":131,"x2":304,"y":257}]},"mark":{"type":"rule","color":"#111111","strokeWidth":1},"encoding":{"x2":{"field":"x2"},"y":{"field":"y","type":"quantitative","scale":{"domain":[0,1024],"reverse":true,"nice":false,"zero":false},"axis":null}}},
{"data":{"values":[{"x":199,"y":234,"y2":257}]},"mark":{"type":"rule","color":"#111111","strokeWidth":1.6},"encoding":{"y":{"field":"y","type":"quantitative","scale":{"domain":[0,1024],"reverse":true,"nice":false,"zero":false},"axis":null},"y2":{"field":"y2"}}},
{"data":{"values":[{"x":199,"x2":210,"y":234}]},"mark":{"type":"rule","color":"#111111","strokeWidth":1.6},"encoding":{"x2":{"field":"x2"},"y":{"field":"y","type":"quantitative","scale":{"domain":[0,1024],"reverse":true,"nice":false,"zero":false},"axis":null}}},
{"data":{"values":[{"x":212,"y":234}]},"mark":{"type":"point","shape":"triangle-right","size":22,"filled":true,"opacity":1,"color":"#111111"},"encoding":{"y":{"field":"y","type":"quantitative","scale":{"domain":[0,1024],"reverse":true,"nice":false,"zero":false},"axis":null}}},
{"data":{"values":[{"x":199,"x2":250,"y":248,"y2":265}]},"mark":{"type":"rect","color":"#8cc63f","stroke":"#333333","strokeWidth":1},"encoding":{"x2":{"field":"x2"},"y":{"field":"y","type":"quantitative","scale":{"domain":[0,1024],"reverse":true,"nice":false,"zero":false},"axis":null},"y2":{"field":"y2"}}},
{"data":{"values":[{"x":254.8,"y":256.5}]},"mark":{"type":"point","shape":"M-0.6,-1L0.6,0L-0.6,1Z","size":256,"filled":true,"opacity":1,"color":"#ffee00","stroke":"#888888","strokeWidth":0.6},"encoding":{"y":{"field":"y","type":"quantitative","scale":{"domain":[0,1024],"reverse":true,"nice":false,"zero":false},"axis":null}}},
{"data":{"values":[{"x":166,"y":243}]},"mark":{"type":"point","size":36,"filled":true,"opacity":1,"color":"#1f3cff"},"encoding":{"y":{"field":"y","type":"quantitative","scale":{"domain":[0,1024],"reverse":true,"nice":false,"zero":false},"axis":null}}},
{"data":{"values":[{"x":279,"y":243}]},"mark":{"type":"point","size":36,"filled":true,"opacity":1,"color":"#ff2020"},"encoding":{"y":{"field":"y","type":"quantitative","scale":{"domain":[0,1024],"reverse":true,"nice":false,"zero":false},"axis":null}}},
{"data":{"values":[{"x":226,"y":266}]},"mark":{"type":"point","size":30,"filled":true,"opacity":1,"color":"#22dd22"},"encoding":{"y":{"field":"y","type":"quantitative","scale":{"domain":[0,1024],"reverse":true,"nice":false,"zero":false},"axis":null}}},
{"data":{"values":[{"x":110,"x2":1024,"y":324.5}]},"mark":{"type":"rule","color":"#578a2c","strokeWidth":2.2},"encoding":{"x2":{"field":"x2"},"y":{"field":"y","type":"quantitative","scale":{"domain":[0,1024],"reverse":true,"nice":false,"zero":false},"axis":null}}},
{"data":{"values":[{"x":1027,"y":324.5}]},"mark":{"type":"point","shape":"triangle-right","size":60,"filled":true,"opacity":1,"color":"#578a2c"},"encoding":{"y":{"field":"y","type":"quantitative","scale":{"domain":[0,1024],"reverse":true,"nice":false,"zero":false},"axis":null}}},
{"data":{"values":[{"x":405,"x2":705,"y":385.7},{"x":405,"x2":705,"y":408},{"x":405,"x2":705,"y":430.7}]},"mark":{"type":"rule","color":"#222222","strokeWidth":1.3},"encoding":{"x2":{"field":"x2"},"y":{"field":"y","type":"quantitative","scale":{"domain":[0,1024],"reverse":true,"nice":false,"zero":false},"axis":null}}},
{"data":{"values":[{"x":495,"y":363,"y2":451},{"x":584,"y":363,"y2":451}]},"mark":{"type":"rule","color":"#222222","strokeWidth":1.3},"encoding":{"y":{"field":"y","type":"quantitative","scale":{"domain":[0,1024],"reverse":true,"nice":false,"zero":false},"axis":null},"y2":{"field":"y2"}}},

{"data":{"values":[{"x":3,"y":26,"t":"A"},{"x":3,"y":207,"t":"B"},{"x":3,"y":834,"t":"C"}]},"mark":{"type":"text","fontSize":29,"fontWeight":"bold","align":"left","baseline":"alphabetic","color":"#000000"},"encoding":{"y":{"field":"y","type":"quantitative","scale":{"domain":[0,1024],"reverse":true,"nice":false,"zero":false},"axis":null},"text":{"field":"t"}}},
{"data":{"values":[{"x":93,"y":26,"t":"Tcra/d"}]},"mark":{"type":"text","fontSize":27,"fontStyle":"italic","align":"center","baseline":"middle","color":"#000000"},"encoding":{"y":{"field":"y","type":"quantitative","scale":{"domain":[0,1024],"reverse":true,"nice":false,"zero":false},"axis":null},"text":{"field":"t"}}},
{"data":{"values":[{"x":93,"y":65,"t":"Chr14:"},{"x":93,"y":85,"t":"52.4-54.2"}]},"mark":{"type":"text","fontSize":18,"align":"center","baseline":"middle","color":"#000000"},"encoding":{"y":{"field":"y","type":"quantitative","scale":{"domain":[0,1024],"reverse":true,"nice":false,"zero":false},"axis":null},"text":{"field":"t"}}},
{"data":{"values":[{"x":150,"y":16,"t":"Centromere"},{"x":157,"y":42,"t":"5' end"}]},"mark":{"type":"text","fontSize":13.5,"align":"left","baseline":"middle","color":"#000000"},"encoding":{"y":{"field":"y","type":"quantitative","scale":{"domain":[0,1024],"reverse":true,"nice":false,"zero":false},"axis":null},"text":{"field":"t"}}},
{"data":{"values":[{"x":1030,"y":16,"t":"Telomere"},{"x":1023,"y":42,"t":"3' end"}]},"mark":{"type":"text","fontSize":13.5,"align":"right","baseline":"middle","color":"#000000"},"encoding":{"y":{"field":"y","type":"quantitative","scale":{"domain":[0,1024],"reverse":true,"nice":false,"zero":false},"axis":null},"text":{"field":"t"}}},
{"data":{"values":[{"x":590,"y":28,"t":"1.8 Mb"},{"x":470,"y":50,"t":"Vα"},{"x":470,"y":71,"t":"1.5 Mb"},{"x":869,"y":70,"t":"VDJδ Cδ"},{"x":955,"y":70,"t":"Jα"},{"x":1015,"y":70,"t":"Cα"}]},"mark":{"type":"text","fontSize":15.5,"align":"center","baseline":"middle","color":"#000000"},"encoding":{"y":{"field":"y","type":"quantitative","scale":{"domain":[0,1024],"reverse":true,"nice":false,"zero":false},"axis":null},"text":{"field":"t"}}},
{"data":{"values":[{"x":858,"y":43,"t":"Tcrd"}]},"mark":{"type":"text","fontSize":14,"fontStyle":"italic","align":"center","baseline":"middle","color":"#000000"},"encoding":{"y":{"field":"y","type":"quantitative","scale":{"domain":[0,1024],"reverse":true,"nice":false,"zero":false},"axis":null},"text":{"field":"t"}}},
{"data":{"values":[{"x":205,"y":158,"t":"unique Vα"},{"x":500,"y":158,"t":"duplicated or triplicated Vα"},{"x":783,"y":158,"t":"unique Vα"}]},"mark":{"type":"text","fontSize":14,"align":"center","baseline":"middle","color":"#000000"},"encoding":{"y":{"field":"y","type":"quantitative","scale":{"domain":[0,1024],"reverse":true,"nice":false,"zero":false},"axis":null},"text":{"field":"t"}}},
{"data":{"values":[{"x":809,"y":106,"t":"Vδ2,1-22"},{"x":826,"y":106,"t":"Vα23"},{"x":841,"y":105,"t":"Vδ3-4"},{"x":894,"y":105,"t":"Vδ5"}]},"mark":{"type":"text","fontSize":9.5,"angle":57,"align":"left","baseline":"middle","color":"#333333"},"encoding":{"y":{"field":"y","type":"quantitative","scale":{"domain":[0,1024],"reverse":true,"nice":false,"zero":false},"axis":null},"text":{"field":"t"}}},
{"data":{"values":[{"x":873,"y":108,"t":"Eδ"},{"x":908,"y":108,"t":"TEA"},{"x":1029,"y":110,"t":"Eα"}]},"mark":{"type":"text","fontSize":16,"angle":57,"align":"left","baseline":"middle","color":"#3b2a8c"},"encoding":{"y":{"field":"y","type":"quantitative","scale":{"domain":[0,1024],"reverse":true,"nice":false,"zero":false},"axis":null},"text":{"field":"t"}}},

{"data":{"values":[{"x":40,"y":408,"t":"Distance from Vα TSS to the closest CBE"}]},"mark":{"type":"text","fontSize":16,"angle":270,"align":"center","baseline":"middle","color":"#000000"},"encoding":{"y":{"field":"y","type":"quantitative","scale":{"domain":[0,1024],"reverse":true,"nice":false,"zero":false},"axis":null},"text":{"field":"t"}}},
{"data":{"values":[{"x":162,"y":233,"t":"Upstream"},{"x":269,"y":233,"t":"Downstream"},{"x":270,"y":266,"t":"RSS"},{"x":226,"y":277,"t":"Overlap"}]},"mark":{"type":"text","fontSize":12.5,"align":"center","baseline":"middle","color":"#000000"},"encoding":{"y":{"field":"y","type":"quantitative","scale":{"domain":[0,1024],"reverse":true,"nice":false,"zero":false},"axis":null},"text":{"field":"t"}}},
{"data":{"values":[{"x":208,"y":227,"t":"TSS"},{"x":540,"y":375,"t":"# fragments"},{"x":644,"y":375,"t":"Average distance"}]},"mark":{"type":"text","fontSize":12,"fontWeight":"bold","align":"center","baseline":"middle","color":"#000000"},"encoding":{"y":{"field":"y","type":"quantitative","scale":{"domain":[0,1024],"reverse":true,"nice":false,"zero":false},"axis":null},"text":{"field":"t"}}},
{"data":{"values":[{"x":225,"y":256,"t":"V gene"}]},"mark":{"type":"text","fontSize":10,"align":"center","baseline":"middle","color":"#111111"},"encoding":{"y":{"field":"y","type":"quantitative","scale":{"domain":[0,1024],"reverse":true,"nice":false,"zero":false},"axis":null},"text":{"field":"t"}}},
{"data":{"values":[{"x":462,"y":315,"t":"Vα gene segments"},{"x":640,"y":315,"t":"/"}]},"mark":{"type":"text","fontSize":15,"align":"left","baseline":"middle","color":"#111111"},"encoding":{"y":{"field":"y","type":"quantitative","scale":{"domain":[0,1024],"reverse":true,"nice":false,"zero":false},"axis":null},"text":{"field":"t"}}},
{"data":{"values":[{"x":590,"y":315,"t":"121 (+)"}]},"mark":{"type":"text","fontSize":15,"align":"left","baseline":"middle","color":"#4d8f2f"},"encoding":{"y":{"field":"y","type":"quantitative","scale":{"domain":[0,1024],"reverse":true,"nice":false,"zero":false},"axis":null},"text":{"field":"t"}}},
{"data":{"values":[{"x":648,"y":315,"t":"9 (-)"}]},"mark":{"type":"text","fontSize":15,"align":"left","baseline":"middle","color":"#f07d3c"},"encoding":{"y":{"field":"y","type":"quantitative","scale":{"domain":[0,1024],"reverse":true,"nice":false,"zero":false},"axis":null},"text":{"field":"t"}}},
{"data":{"values":[{"x":452,"y":398,"t":"Upstream"},{"x":540,"y":398,"t":"138"},{"x":645,"y":398,"t":"3.2 kb"}]},"mark":{"type":"text","fontSize":12.5,"align":"center","baseline":"middle","color":"#2222ee"},"encoding":{"y":{"field":"y","type":"quantitative","scale":{"domain":[0,1024],"reverse":true,"nice":false,"zero":false},"axis":null},"text":{"field":"t"}}},
{"data":{"values":[{"x":452,"y":420,"t":"Downstream"},{"x":540,"y":420,"t":"53"},{"x":645,"y":420,"t":"9.4 kb"}]},"mark":{"type":"text","fontSize":12.5,"align":"center","baseline":"middle","color":"#ee1111"},"encoding":{"y":{"field":"y","type":"quantitative","scale":{"domain":[0,1024],"reverse":true,"nice":false,"zero":false},"axis":null},"text":{"field":"t"}}},
{"data":{"values":[{"x":452,"y":443,"t":"Overlap"},{"x":540,"y":443,"t":"1"},{"x":645,"y":443,"t":"0 kb"}]},"mark":{"type":"text","fontSize":12.5,"align":"center","baseline":"middle","color":"#000000"},"encoding":{"y":{"field":"y","type":"quantitative","scale":{"domain":[0,1024],"reverse":true,"nice":false,"zero":false},"axis":null},"text":{"field":"t"}}},
{"data":{"values":[{"x":99.5,"y":639,"t":"Closest CTCF"},{"x":99.5,"y":652,"t":"motif (+)"},{"x":106,"y":889,"t":"CTCF motifs (+)"}]},"mark":{"type":"text","fontSize":12.5,"align":"right","baseline":"middle","color":"#1f9e5c"},"encoding":{"y":{"field":"y","type":"quantitative","scale":{"domain":[0,1024],"reverse":true,"nice":false,"zero":false},"axis":null},"text":{"field":"t"}}},
{"data":{"values":[{"x":99.5,"y":668,"t":"Closest CTCF"},{"x":99.5,"y":682,"t":"motif (-)"},{"x":106,"y":911,"t":"CTCF motifs (-)"}]},"mark":{"type":"text","fontSize":12.5,"align":"right","baseline":"middle","color":"#f07d3c"},"encoding":{"y":{"field":"y","type":"quantitative","scale":{"domain":[0,1024],"reverse":true,"nice":false,"zero":false},"axis":null},"text":{"field":"t"}}},
{"data":{"values":[{"x":85.5,"y":697,"t":"CTCF DN Shih"},{"x":99.5,"y":711,"t":"2012"},{"x":92,"y":933,"t":"CTCF DN Shih"},{"x":106,"y":946,"t":"2012"}]},"mark":{"type":"text","fontSize":12.5,"align":"right","baseline":"middle","color":"#1fb41f"},"encoding":{"y":{"field":"y","type":"quantitative","scale":{"domain":[0,1024],"reverse":true,"nice":false,"zero":false},"axis":null},"text":{"field":"t"}}},
{"data":{"values":[{"x":99.5,"y":697,"t":"et"},{"x":68,"y":711,"t":"al."},{"x":106,"y":933,"t":"et"},{"x":74.5,"y":946,"t":"al."}]},"mark":{"type":"text","fontSize":12.5,"fontStyle":"italic","align":"right","baseline":"middle","color":"#1fb41f"},"encoding":{"y":{"field":"y","type":"quantitative","scale":{"domain":[0,1024],"reverse":true,"nice":false,"zero":false},"axis":null},"text":{"field":"t"}}},
{"data":{"values":[{"x":85.5,"y":727,"t":"CTCF DP Shih"},{"x":99.5,"y":740,"t":"2012"},{"x":92,"y":960,"t":"CTCF DP Shih"},{"x":106,"y":972,"t":"2012"}]},"mark":{"type":"text","fontSize":12.5,"align":"right","baseline":"middle","color":"#2e3a2e"},"encoding":{"y":{"field":"y","type":"quantitative","scale":{"domain":[0,1024],"reverse":true,"nice":false,"zero":false},"axis":null},"text":{"field":"t"}}},
{"data":{"values":[{"x":99.5,"y":727,"t":"et"},{"x":68,"y":740,"t":"al."},{"x":106,"y":960,"t":"et"},{"x":74.5,"y":972,"t":"al."}]},"mark":{"type":"text","fontSize":12.5,"fontStyle":"italic","align":"right","baseline":"middle","color":"#2e3a2e"},"encoding":{"y":{"field":"y","type":"quantitative","scale":{"domain":[0,1024],"reverse":true,"nice":false,"zero":false},"axis":null},"text":{"field":"t"}}},
{"data":{"values":[{"x":145,"y":760,"t":"Unique Vα"},{"x":316,"y":760,"t":"Duplicated Vα"},{"x":548,"y":760,"t":"Triplicated Vα"},{"x":773,"y":760,"t":"Duplicated Vα"},{"x":971,"y":760,"t":"Unique Vα"}]},"mark":{"type":"text","fontSize":13,"align":"center","baseline":"middle","color":"#1a1a1a"},"encoding":{"y":{"field":"y","type":"quantitative","scale":{"domain":[0,1024],"reverse":true,"nice":false,"zero":false},"axis":null},"text":{"field":"t"}}},

{"data":{"values":[{"x":785,"y":829,"t":"Possible contacts between facing"}]},"mark":{"type":"text","fontSize":12.5,"align":"center","baseline":"middle","color":"#111111"},"encoding":{"y":{"field":"y","type":"quantitative","scale":{"domain":[0,1024],"reverse":true,"nice":false,"zero":false},"axis":null},"text":{"field":"t"}}},
{"data":{"values":[{"x":882,"y":846,"t":"CTCF motifs belonging to"}]},"mark":{"type":"text","fontSize":12.5,"align":"right","baseline":"middle","color":"#111111"},"encoding":{"y":{"field":"y","type":"quantitative","scale":{"domain":[0,1024],"reverse":true,"nice":false,"zero":false},"axis":null},"text":{"field":"t"}}},
{"data":{"values":[{"x":885,"y":846,"t":"Tcra"}]},"mark":{"type":"text","fontSize":12.5,"fontStyle":"italic","align":"left","baseline":"middle","color":"#111111"},"encoding":{"y":{"field":"y","type":"quantitative","scale":{"domain":[0,1024],"reverse":true,"nice":false,"zero":false},"axis":null},"text":{"field":"t"}}},
{"data":{"values":[{"x":521,"y":1003,"t":"Tcrd locus"}]},"mark":{"type":"text","fontSize":12.5,"fontStyle":"italic","align":"center","baseline":"middle","color":"#111111"},"encoding":{"y":{"field":"y","type":"quantitative","scale":{"domain":[0,1024],"reverse":true,"nice":false,"zero":false},"axis":null},"text":{"field":"t"}}},
{"data":{"values":[{"x":777,"y":875,"t":"TEAp"}]},"mark":{"type":"text","fontSize":12.5,"align":"center","baseline":"middle","color":"#f07d3c"},"encoding":{"y":{"field":"y","type":"quantitative","scale":{"domain":[0,1024],"reverse":true,"nice":false,"zero":false},"axis":null},"text":{"field":"t"}}},
{"data":{"values":[{"x":778,"y":889,"t":"-"}]},"mark":{"type":"text","fontSize":11,"fontWeight":"bold","align":"center","baseline":"middle","color":"#f07d3c"},"encoding":{"y":{"field":"y","type":"quantitative","scale":{"domain":[0,1024],"reverse":true,"nice":false,"zero":false},"axis":null},"text":{"field":"t"}}},
{"data":{"values":[{"x":1025,"y":869,"t":"+"}]},"mark":{"type":"text","fontSize":12,"align":"center","baseline":"middle","color":"#4a7a1e"},"encoding":{"y":{"field":"y","type":"quantitative","scale":{"domain":[0,1024],"reverse":true,"nice":false,"zero":false},"axis":null},"text":{"field":"t"}}},
{"data":{"values":[{"x":107,"y":1003,"t":"Vα cluster -"},{"x":107,"y":1017,"t":"proximal end"}]},"mark":{"type":"text","fontSize":12.5,"align":"left","baseline":"middle","color":"#111111"},"encoding":{"y":{"field":"y","type":"quantitative","scale":{"domain":[0,1024],"reverse":true,"nice":false,"zero":false},"axis":null},"text":{"field":"t"}}},
{"data":{"values":[{"x":897,"y":1003,"t":"Jβ1-61"},{"x":1023,"y":1003,"t":"Eα"}]},"mark":{"type":"text","fontSize":12.5,"align":"center","baseline":"middle","color":"#111111"},"encoding":{"y":{"field":"y","type":"quantitative","scale":{"domain":[0,1024],"reverse":true,"nice":false,"zero":false},"axis":null},"text":{"field":"t"}}}
]
},
{
"encoding":{
"x":{"field":"pos","type":"quantitative","scale":{"domain":[0,1050],"nice":false,"zero":false},"axis":null},
"y":{"field":"kb","type":"quantitative","scale":{"domain":[-26.11,38.7],"nice":false,"zero":false},"axis":{"values":[0,5,10,15,20,25],"labelExpr":"datum.value + 'kb'","offset":-77,"domain":false,"ticks":false,"tickSize":0,"labelPadding":0,"labelAlign":"center","labelBaseline":"middle","labelFontSize":12.5,"labelColor":"#000000","labelFont":"Liberation Sans","grid":false,"title":null}}
},
"layer":[
{"data":{"name":"pts"},"mark":{"type":"line","color":"#555555","strokeWidth":1,"strokeDash":[1.5,1.5]},"encoding":{}},
{"data":{"name":"pts"},"mark":{"type":"point","filled":true,"size":24,"opacity":1},"encoding":{"color":{"field":"d","type":"nominal","scale":{"domain":["U","D"],"range":["#0000ff","#ff0000"]},"legend":null}}}
]
}
],
"resolve":{"scale":{"y":"independent","color":"independent"}}
}
